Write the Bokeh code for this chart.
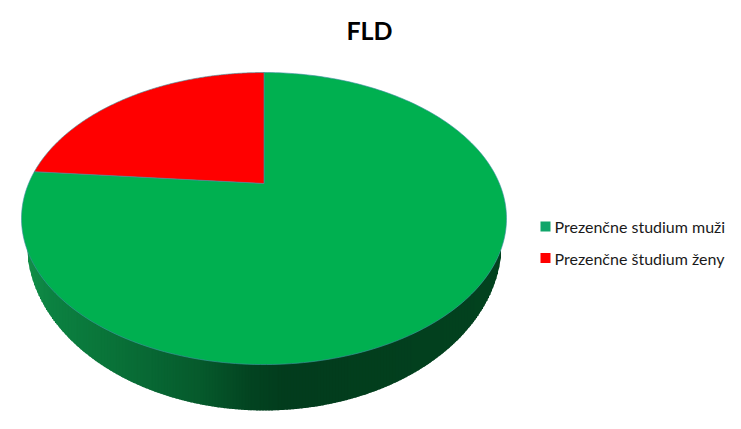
import numpy as np
from bokeh.plotting import figure
from bokeh.models import Range1d
from bokeh.core.properties import value
from bokeh.embed import file_html
from bokeh.resources import INLINE

title_text = "FLD"
categories = ["Prezenčne studium muži", "Prezenčne študium ženy"]
shares = [76.4, 23.6]
face_colors = ["#00B050", "#FF0000"]
legend_colors = ["#10A56A", "#FF0000"]
edge_color = "#3F93A0"

# side shading: x position on the rim -> colour
shade_x = [21, 50, 100, 150, 200, 250, 285, 506]
shade_r = [20, 12, 10, 8, 6, 3, 2, 3]
shade_g = [146, 130, 118, 104, 90, 68, 60, 67]
shade_b = [74, 66, 58, 52, 44, 33, 29, 31]

# projected circle of the top face
CX, CY = 263.5, 183.0
A, B, K = 235.4, 137.6, 0.24


def project(theta):
    """theta clockwise from 12 o'clock on the pie's own circle"""
    u, v = np.sin(theta), np.cos(theta)
    d = 1 + K * v
    return CX + A * u / d, CY - B * v / d


# rim ellipses used for the lower-edge profile
TOP_W, TOP_H, TOP_CY = 242.5, 146.0, 218.0
BOT_W, BOT_H, BOT_CY = 237.5, 168.0, 242.0


def rim(x, w, h, cy):
    t = np.clip((x - CX) / w, -1, 1)
    return cy + h * np.sqrt(1 - t ** 2)


p = figure(width=733, height=421, output_backend="svg", toolbar_location=None,
           x_range=Range1d(0, 733), y_range=Range1d(421, 0),
           x_axis_type=None, y_axis_type=None, min_border=0,
           outline_line_color=None, background_fill_color="white")
p.grid.visible = False

# side wall, in thin slanted strips that follow the lower rim
edges = np.arange(CX - BOT_W, CX + BOT_W + 0.1, 1.5)
strip_x, strip_y, strip_c = [], [], []
for x0, x1 in zip(edges[:-1], edges[1:]):
    xm = (x0 + x1) / 2
    b0, b1 = rim(x0, BOT_W, BOT_H, BOT_CY), rim(x1, BOT_W, BOT_H, BOT_CY)
    t0, t1 = rim(x0, TOP_W, TOP_H, TOP_CY), rim(x1, TOP_W, TOP_H, TOP_CY)
    if b0 <= t0 and b1 <= t1:
        continue
    x_right = x1 + 0.5
    strip_x.append([x0, x_right, x_right, x0])
    strip_y.append([min(t0, b0) - 1, min(t1, b1) - 1, b1, b0])
    strip_c.append("#%02x%02x%02x" % (int(np.interp(xm, shade_x, shade_r)),
                                      int(np.interp(xm, shade_x, shade_g)),
                                      int(np.interp(xm, shade_x, shade_b))))
p.patches(strip_x, strip_y, fill_color=strip_c, line_color=None)

# top-face wedges, clockwise from 12 o'clock
fractions = np.cumsum([0] + shares) / sum(shares)
for i, col in enumerate(face_colors):
    th = np.linspace(fractions[i], fractions[i + 1], 240) * 2 * np.pi
    xs, ys = project(th)
    p.patch(np.r_[CX, xs], np.r_[CY, ys], fill_color=col, line_color=edge_color,
            line_width=0.8, line_alpha=0.8)

p.text([369], [29], text=[title_text], text_font=value("Lato"), text_font_style="bold",
       text_font_size="25px", text_color="black", text_align="center", text_baseline="middle")

for name, col, y in zip(categories, legend_colors, [226, 257.5]):
    p.quad(left=540, right=550, top=y - 5, bottom=y + 5, fill_color=col, line_color=None)
    p.text([554], [y], text=[name], text_font=value("Lato"), text_font_size="16px",
           text_color="#1a1a1a", text_align="left", text_baseline="middle")

open("out.html", "w").write(file_html(p, INLINE))
